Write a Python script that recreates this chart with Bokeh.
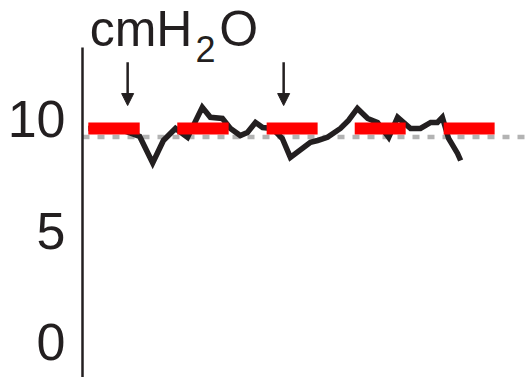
from bokeh.plotting import figure
from bokeh.models import Range1d, FixedTicker, Span, Arrow, NormalHead, Label
from bokeh.embed import file_html
from bokeh.resources import INLINE

# ---- data (time in s, pressure in cmH2O) ----
trace_t = [0.13, 0.74, 1.28, 1.57, 1.81, 2.08, 2.35, 2.68, 2.86, 3.13, 3.31, 3.53,
           3.69, 3.87, 4.03, 4.25, 4.47, 4.65, 5.10, 5.26, 5.48, 5.77, 5.95, 6.15,
           6.38, 6.60, 6.85, 7.05, 7.34, 7.56, 7.79, 7.94, 8.05, 8.19, 8.39, 8.46]
trace_p = [9.59, 9.63, 9.23, 8.04, 9.05, 9.59, 9.19, 10.54, 10.09, 10.04, 9.59, 9.27,
           9.41, 9.86, 9.63, 9.59, 9.14, 8.29, 8.97, 9.05, 9.19, 9.59, 9.95, 10.49,
           10.04, 9.86, 9.19, 10.09, 9.59, 9.59, 9.86, 9.86, 10.09, 9.14, 8.47, 8.15]

peep_start = [0.13, 2.12, 4.12, 6.09, 8.08]
peep_end = [1.28, 3.27, 5.26, 7.23, 9.22]
peep_level = [9.59, 9.59, 9.59, 9.59, 9.59]

baseline_level = 9.21

arrow_t = [1.01, 4.50]
arrow_top = 12.56
arrow_tip = 10.62

y_ticks = [0, 5, 10]

unit_parts = ["cmH", "2", "O"]

INK = "#231f20"
FONT = "Liberation Sans"

p = figure(width=529, height=377, output_backend="svg", toolbar_location=None,
           x_axis_location=None, y_axis_location="left",
           x_range=Range1d(0, 10), y_range=Range1d(-1.6, 15.34),
           min_border_left=82, min_border_right=0, min_border_top=0, min_border_bottom=0)
p.outline_line_color = None
p.grid.visible = False
p.background_fill_color = "white"
p.border_fill_color = "white"

ax = p.yaxis[0]
ax.ticker = FixedTicker(ticks=y_ticks)
ax.bounds = (-1.6, 13.24)
ax.axis_line_color = INK
ax.axis_line_width = 2.5
ax.major_tick_line_color = None
ax.minor_tick_line_color = None
ax.major_tick_out = 0
ax.major_tick_in = 0
ax.major_label_standoff = 17
ax.major_label_text_font = FONT
ax.major_label_text_font_size = "52px"
ax.major_label_text_color = INK

p.add_layout(Span(location=baseline_level, dimension="width", line_color="#b3b3b3",
                  line_width=4.5, line_dash="7 8", level="underlay"))

p.line(trace_t, trace_p, line_color=INK, line_width=5.5, line_join="miter")
p.segment(x0=peep_start, y0=peep_level, x1=peep_end, y1=peep_level,
          line_color="#ff0000", line_width=12, line_cap="butt")

for t in arrow_t:
    p.add_layout(Arrow(end=NormalHead(size=12, fill_color=INK, line_color=INK),
                       x_start=t, y_start=arrow_top, x_end=t, y_end=arrow_tip,
                       line_color=INK, line_width=2.5))

p.add_layout(Label(x=0.16, y=14.04, text=unit_parts[0], text_font=FONT,
                   text_font_size="50px", text_color=INK, text_baseline="alphabetic"))
p.add_layout(Label(x=2.53, y=13.17, text=unit_parts[1], text_font=FONT,
                   text_font_size="36px", text_color=INK, text_baseline="alphabetic"))
p.add_layout(Label(x=3.06, y=14.04, text=unit_parts[2], text_font=FONT,
                   text_font_size="50px", text_color=INK, text_baseline="alphabetic"))

open("out.html", "w").write(file_html(p, INLINE))
